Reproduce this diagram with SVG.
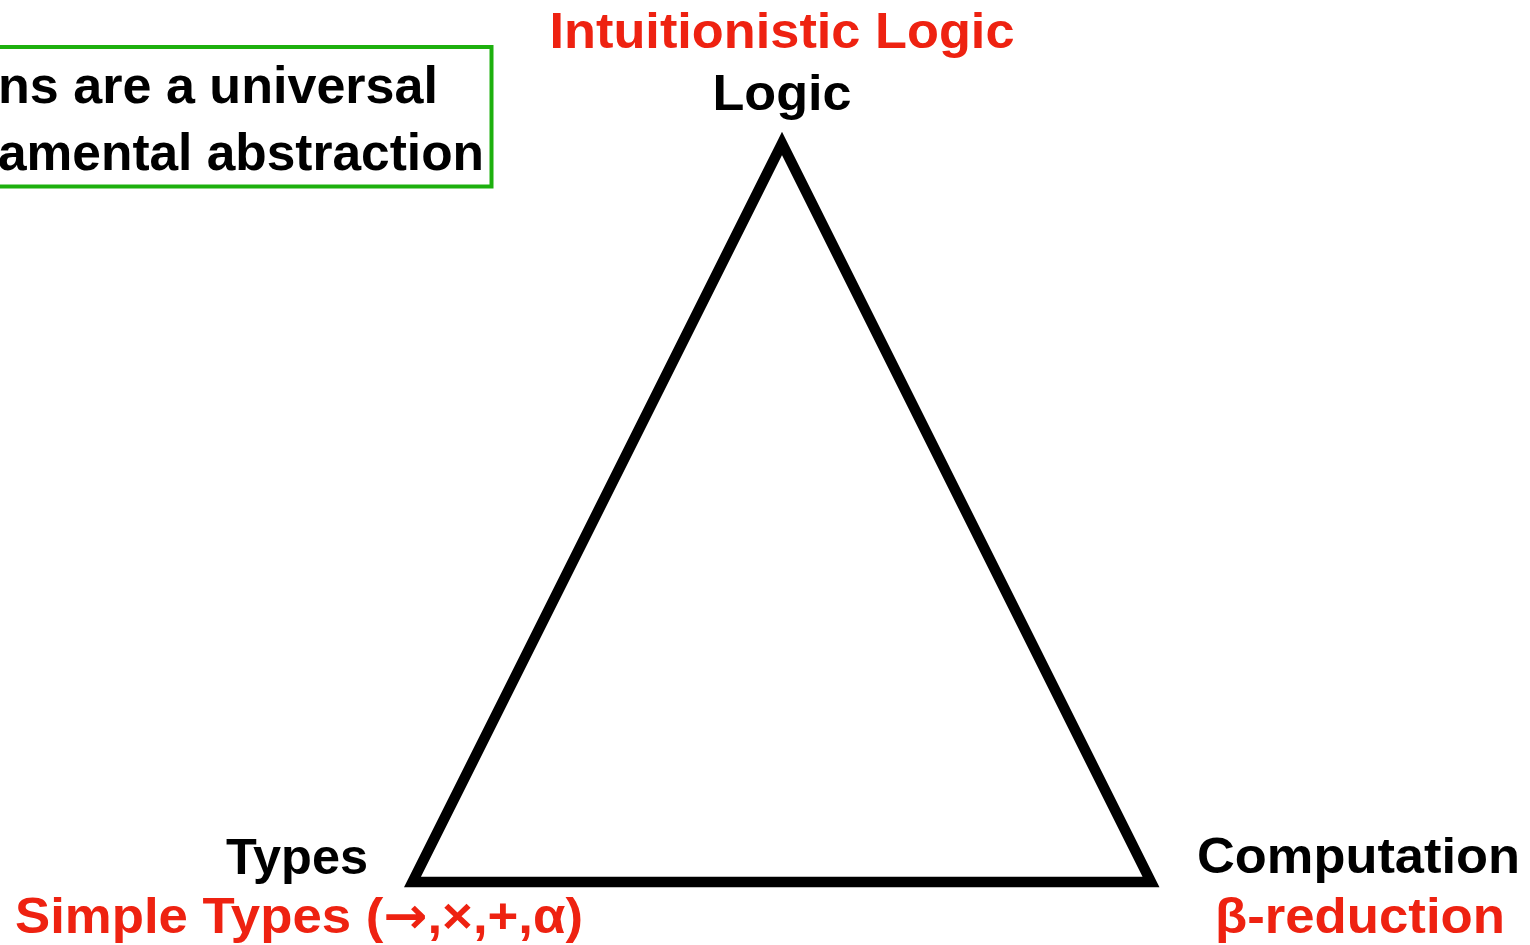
<svg xmlns="http://www.w3.org/2000/svg" width="1530" height="945" viewBox="0 0 1530 945">
<style>
text{font-family:"Liberation Sans",Arial,Helvetica,sans-serif;font-weight:bold;font-size:50px}
.k{fill:#000}
.r{fill:#ee2211}
.b{font-size:52px}
.arr{font-family:"DejaVu Sans",sans-serif}
</style>
<rect width="1530" height="945" fill="#fff"/>
<g id="note">
<rect x="-10" y="47" width="501.5" height="139.5" fill="#fff" stroke="#1db00e" stroke-width="4"/>
<text class="k b" x="-2" y="103" textLength="440" lengthAdjust="spacingAndGlyphs">ns are a universal</text>
<text class="k b" x="-2" y="170" textLength="486" lengthAdjust="spacingAndGlyphs">amental abstraction</text>
</g>
<g id="connectors">
<polygon points="782,143.5 412.5,882 1151,882" fill="none" stroke="#000" stroke-width="10.5" stroke-linejoin="miter" stroke-miterlimit="10"/>
</g>
<g id="logic">
<text class="r" x="782" y="48" text-anchor="middle" textLength="465" lengthAdjust="spacingAndGlyphs">Intuitionistic Logic</text>
<text class="k" x="782" y="110" text-anchor="middle" textLength="139" lengthAdjust="spacingAndGlyphs">Logic</text>
</g>
<g id="types">
<text class="k" x="226" y="874" textLength="142" lengthAdjust="spacingAndGlyphs">Types</text>
<text class="r" x="15" y="933" textLength="568" lengthAdjust="spacingAndGlyphs">Simple Types (<tspan class="arr">→</tspan>,×,+,α)</text>
</g>
<g id="computation">
<text class="k" x="1197" y="873" textLength="323" lengthAdjust="spacingAndGlyphs">Computation</text>
<text class="r" x="1215" y="933" textLength="290" lengthAdjust="spacingAndGlyphs">β-reduction</text>
</g>
</svg>
